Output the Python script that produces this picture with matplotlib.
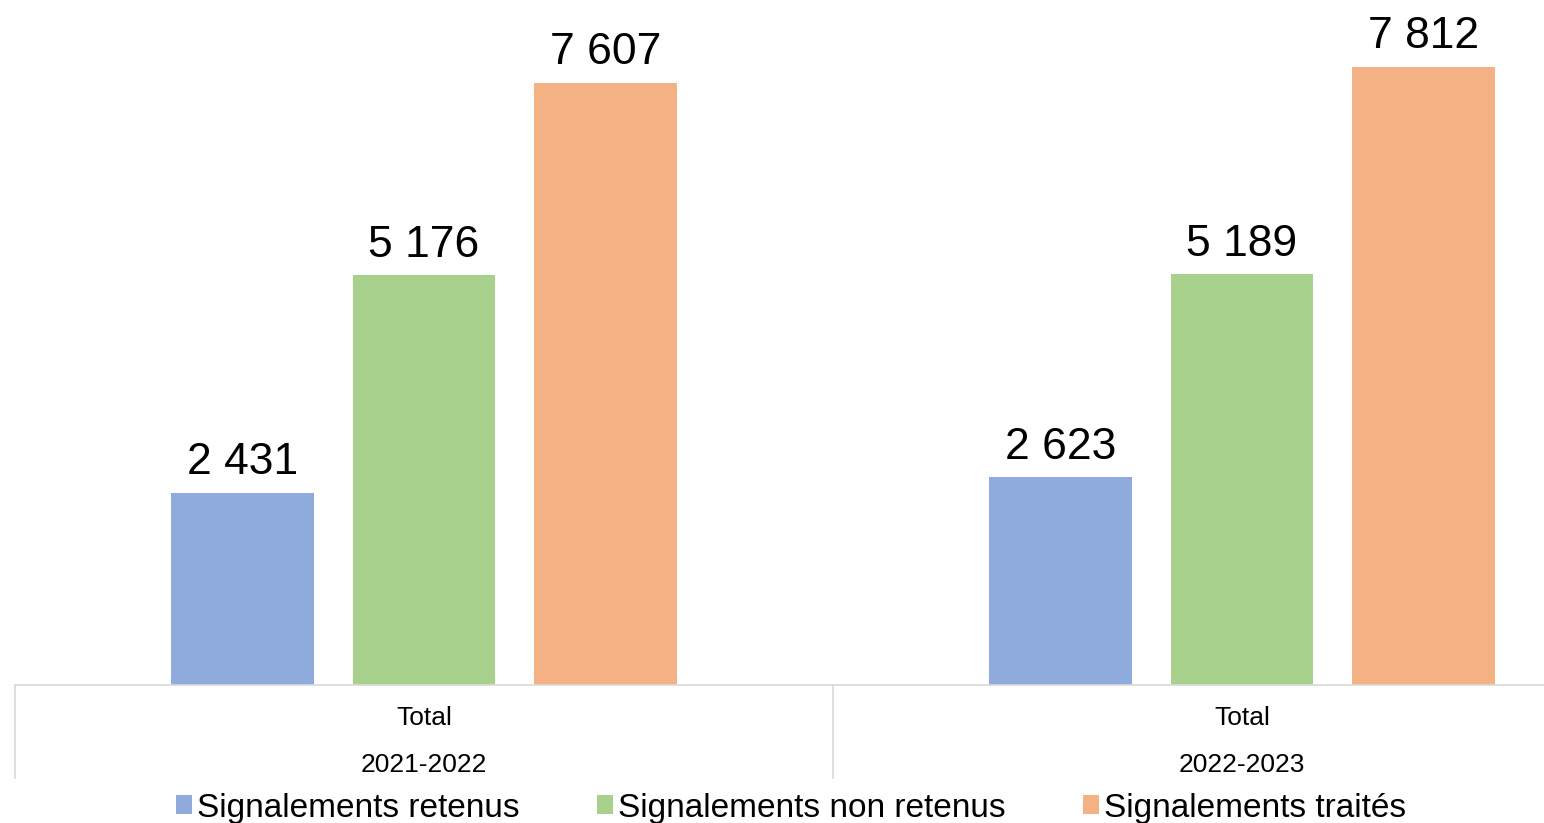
import matplotlib.pyplot as plt
import matplotlib.transforms as mtransforms
from matplotlib.patches import Patch

plt.rcParams['font.family'] = ['Liberation Sans', 'DejaVu Sans']

# Data
periods = ['2021-2022', '2022-2023']
group_label = 'Total'
series_names = ['Signalements retenus', 'Signalements non retenus', 'Signalements traités']
retenus = [2431, 2623]
non_retenus = [5176, 5189]
traites = [7607, 7812]
colors = ['#8faadc', '#a9d18e', '#f4b183']

W, H = 1544, 823
fig = plt.figure(figsize=(W / 100, H / 100), dpi=100)
# axis extends past the right edge (chart is cropped in the reference)
ax = fig.add_axes([15 / W, 138 / H, 1636 / W, 685 / H])

bar_w = 0.174
offset = 0.222
x = list(range(len(periods)))


def fmt(v):
    return f"{v:,}".replace(',', ' ')


for i, (vals, col) in enumerate(zip([retenus, non_retenus, traites], colors)):
    xs = [xi + (i - 1) * offset for xi in x]
    bars = ax.bar(xs, vals, width=bar_w, color=col, zorder=2)
    for b, v in zip(bars, vals):
        ax.annotate(fmt(v), (b.get_x() + b.get_width() / 2, v),
                    xytext=(0, 7), textcoords='offset points',
                    ha='center', va='bottom', fontsize=32, color='#000000')

ax.set_xlim(-0.5, 1.5)
ax.set_ylim(0, 8656)
for s in ['top', 'right', 'left']:
    ax.spines[s].set_visible(False)
ax.spines['bottom'].set_color('#d9d9d9')
ax.spines['bottom'].set_linewidth(1.2)
ax.set_yticks([])
ax.set_xticks([])

# multi-level category labels
trans = mtransforms.blended_transform_factory(ax.transData, ax.transAxes)
for xi, p in zip(x, periods):
    ax.text(xi, -33 / 685, group_label, transform=trans, ha='center', va='center',
            fontsize=19, color='#000000')
    ax.text(xi, -80 / 685, p, transform=trans, ha='center', va='center',
            fontsize=19, color='#000000')
for xs in [-0.5, 0.5]:
    ax.plot([xs, xs], [0, -93 / 685], transform=trans, color='#d9d9d9',
            lw=1.2, clip_on=False)

handles = [Patch(facecolor=c, edgecolor='none') for c in colors]
fig.legend(handles, series_names, loc='center', ncol=3,
           bbox_to_anchor=(791 / W, 15 / H), frameon=False, fontsize=24,
           handlelength=0.5, handleheight=0.5, handletextpad=0.15,
           columnspacing=2.3, borderaxespad=0)

fig.savefig('out.png', dpi=100)
